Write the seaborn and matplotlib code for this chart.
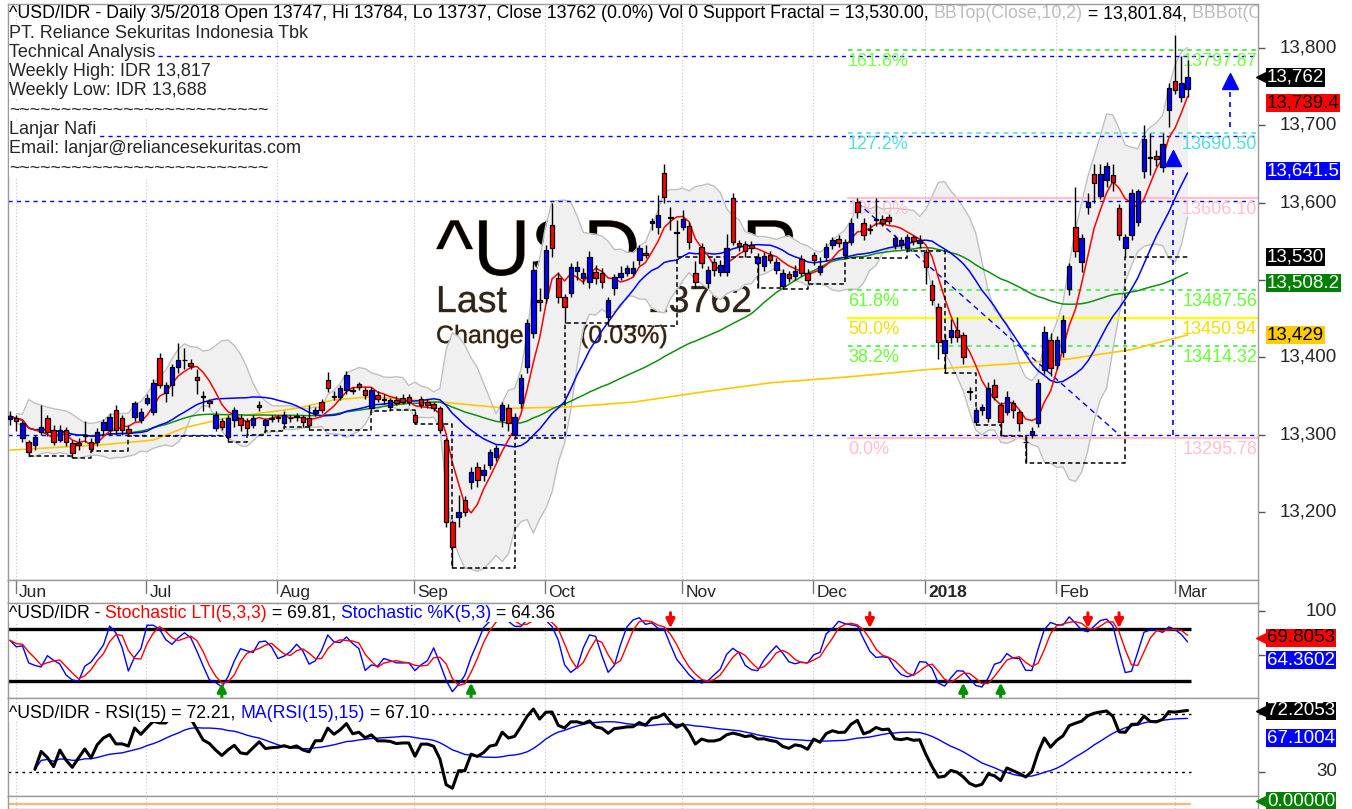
import numpy as np
import pandas as pd
import matplotlib
matplotlib.use("Agg")
import matplotlib.pyplot as plt
import matplotlib.patheffects as pe
import matplotlib.transforms as mtrans
import seaborn as sns

sns.set_theme(style="white")
plt.rcParams["font.family"] = ["Liberation Sans", "DejaVu Sans"]

# ---- ^USD/IDR daily candles, 31 May 2017 .. 5 Mar 2018 ----
open_px = [
    13320, 13322, 13296, 13290, 13287, 13303, 13322, 13306, 13293, 13306, 13289, 13289, 13298, 13290, 13290, 13306, 13306, 13332, 13322, 13307, 13323, 13319,
    13341, 13329, 13399, 13354, 13364, 13387, 13396, 13393, 13375, 13349, 13343, 13309, 13318, 13297, 13319, 13322, 13318, 13312, 13338, 13312, 13320,
    13322, 13315, 13321, 13323, 13323, 13322, 13328, 13342, 13371, 13349, 13349, 13358, 13357, 13365, 13358, 13334, 13351, 13345, 13336, 13345, 13347, 13349,
    13325, 13346, 13342, 13339, 13334, 13293, 13187, 13193, 13215, 13239, 13258, 13248, 13261, 13271, 13319, 13335, 13300, 13341, 13387, 13431, 13474,
    13477, 13571, 13503, 13478, 13483, 13512, 13503, 13497, 13510, 13509, 13452, 13490, 13504, 13509, 13509, 13526, 13535, 13574, 13569, 13638, 13582, 13562,
    13569, 13570, 13509, 13543, 13496, 13523, 13510, 13510, 13606, 13548, 13547, 13545, 13522, 13518, 13532, 13513, 13492, 13508, 13505, 13527, 13509,
    13532, 13510, 13530, 13545, 13553, 13532, 13549, 13601, 13574, 13566, 13578, 13579, 13581, 13545, 13545, 13542, 13555, 13548,
    13536, 13494, 13465, 13406, 13426, 13435, 13429, 13356, 13316, 13332, 13322, 13364, 13338, 13329, 13341, 13329, 13291, 13300, 13315, 13384, 13422,
    13390, 13407, 13488, 13569, 13523, 13594, 13637, 13609, 13629, 13636, 13593, 13541, 13558, 13575, 13641, 13659, 13660, 13646, 13720,
    13757, 13737, 13747,
]
high_px = [
    13330, 13326, 13318, 13293, 13300, 13338, 13326, 13312, 13312, 13310, 13293, 13296, 13318, 13296, 13308, 13320, 13328, 13338, 13326, 13312, 13344, 13334,
    13352, 13372, 13405, 13368, 13392, 13419, 13412, 13398, 13385, 13356, 13346, 13330, 13322, 13326, 13336, 13326, 13322, 13326, 13343, 13322, 13326,
    13326, 13330, 13326, 13328, 13326, 13338, 13336, 13346, 13381, 13356, 13364, 13382, 13362, 13368, 13362, 13362, 13356, 13352, 13348, 13350, 13352, 13353,
    13330, 13350, 13346, 13342, 13337, 13296, 13190, 13222, 13220, 13258, 13265, 13262, 13282, 13286, 13342, 13340, 13328, 13378, 13450, 13525, 13490,
    13545, 13600, 13510, 13482, 13522, 13525, 13516, 13538, 13520, 13516, 13478, 13508, 13518, 13520, 13525, 13545, 13545, 13580, 13610, 13650, 13595, 13578,
    13590, 13575, 13525, 13548, 13518, 13528, 13526, 13560, 13612, 13552, 13550, 13550, 13535, 13536, 13538, 13528, 13514, 13512, 13520, 13532, 13514,
    13536, 13530, 13548, 13556, 13558, 13553, 13580, 13606, 13580, 13572, 13606, 13584, 13585, 13558, 13556, 13560, 13558, 13558,
    13540, 13500, 13470, 13430, 13450, 13452, 13433, 13362, 13336, 13340, 13368, 13372, 13342, 13356, 13345, 13332, 13298, 13310, 13372, 13440, 13432,
    13428, 13455, 13522, 13620, 13560, 13612, 13650, 13650, 13652, 13650, 13598, 13560, 13618, 13618, 13700, 13690, 13668, 13690, 13755,
    13817, 13790, 13784,
]
low_px = [
    13312, 13305, 13290, 13272, 13280, 13300, 13298, 13286, 13290, 13285, 13270, 13280, 13290, 13279, 13285, 13300, 13300, 13300, 13300, 13298, 13318, 13315,
    13338, 13325, 13360, 13342, 13350, 13380, 13385, 13385, 13352, 13330, 13336, 13305, 13306, 13290, 13310, 13305, 13300, 13308, 13330, 13305, 13316,
    13316, 13310, 13316, 13318, 13310, 13306, 13324, 13328, 13355, 13345, 13345, 13352, 13352, 13358, 13346, 13330, 13342, 13340, 13332, 13338, 13339, 13338,
    13314, 13335, 13334, 13330, 13302, 13180, 13128, 13180, 13195, 13230, 13232, 13240, 13255, 13266, 13310, 13305, 13296, 13335, 13380, 13425, 13460,
    13470, 13530, 13470, 13444, 13478, 13500, 13495, 13490, 13495, 13490, 13440, 13480, 13500, 13505, 13505, 13520, 13528, 13565, 13560, 13600, 13565, 13530,
    13565, 13540, 13490, 13515, 13490, 13505, 13505, 13505, 13545, 13538, 13530, 13535, 13490, 13512, 13522, 13508, 13488, 13498, 13500, 13505, 13495,
    13520, 13506, 13525, 13540, 13543, 13528, 13545, 13580, 13552, 13560, 13570, 13570, 13572, 13540, 13540, 13538, 13545, 13542,
    13495, 13468, 13398, 13380, 13418, 13420, 13392, 13345, 13312, 13326, 13316, 13345, 13298, 13325, 13322, 13305, 13263, 13296, 13310, 13378, 13376,
    13385, 13400, 13480, 13530, 13510, 13585, 13600, 13605, 13620, 13615, 13552, 13530, 13552, 13570, 13632, 13636, 13648, 13640, 13698,
    13740, 13730, 13737,
]
close_px = [
    13324, 13318, 13315, 13277, 13297, 13310, 13303, 13290, 13306, 13290, 13276, 13287, 13299, 13282, 13303, 13316, 13323, 13306, 13306, 13302, 13341, 13329,
    13347, 13367, 13364, 13364, 13387, 13397, 13397, 13389, 13371, 13349, 13341, 13325, 13310, 13322, 13332, 13312, 13309, 13322, 13336, 13319, 13321,
    13322, 13325, 13321, 13324, 13316, 13312, 13332, 13332, 13360, 13349, 13360, 13377, 13358, 13362, 13351, 13358, 13346, 13346, 13345, 13341, 13342, 13342,
    13317, 13338, 13338, 13334, 13306, 13187, 13155, 13200, 13200, 13252, 13241, 13254, 13278, 13283, 13338, 13315, 13323, 13373, 13444, 13513, 13471,
    13539, 13541, 13478, 13465, 13517, 13517, 13509, 13530, 13503, 13497, 13474, 13504, 13509, 13515, 13516, 13541, 13532, 13576, 13584, 13607, 13580, 13561,
    13579, 13549, 13497, 13522, 13513, 13513, 13520, 13541, 13549, 13544, 13537, 13541, 13530, 13531, 13526, 13523, 13509, 13503, 13512, 13509, 13500,
    13526, 13518, 13543, 13552, 13548, 13549, 13574, 13588, 13558, 13565, 13579, 13574, 13576, 13554, 13552, 13555, 13551, 13552,
    13517, 13474, 13420, 13422, 13435, 13426, 13400, 13355, 13332, 13336, 13360, 13349, 13316, 13349, 13332, 13315, 13290, 13305, 13367, 13433, 13386,
    13422, 13448, 13518, 13537, 13554, 13601, 13625, 13637, 13647, 13627, 13558, 13556, 13612, 13615, 13682, 13658, 13656, 13676, 13748,
    13746, 13755, 13762,
]

months = ["Jun", "Jul", "Aug", "Sep", "Oct", "Nov", "Dec", "2018", "Feb", "Mar"]
month_start = [1, 22, 43, 65, 86, 108, 129, 147, 168, 187]

# long moving average (yellow)
ma_long_bar = [0, 15, 23, 28, 35, 46, 52, 58, 68, 80, 90, 100, 111, 122, 135, 147, 163, 170, 180, 189]
ma_long_val = [13280, 13287, 13293, 13309, 13322, 13334, 13345, 13349, 13343, 13334, 13336, 13342,
               13355, 13367, 13375, 13384, 13393, 13398, 13410, 13429]

sr_levels = [13790, 13686, 13602, 13300]
fib_names = ["161.8%", "127.2%", "100.0%", "61.8%", "50.0%", "38.2%", "0.0%"]
fib_levels = [13797.87, 13690.50, 13606.10, 13487.56, 13450.94, 13414.32, 13295.78]
trend_bar = [136, 178]
trend_val = [13600, 13300]
proj_bar = [186.7, 195.8]
proj_from = [13300, 13698]
proj_to = [13672, 13772]
sell_bars = [106, 138, 173, 178]
buy_bars = [34, 74, 153, 159]

# ---- indicators ----
df = pd.DataFrame({"o": open_px, "h": high_px, "l": low_px, "c": close_px})
df["bar"] = np.arange(len(df))
c = df["c"]
df["ma5"] = c.rolling(5, min_periods=1).mean()
df["ma20"] = c.rolling(20, min_periods=1).mean()
df["ma50"] = c.rolling(50, min_periods=1).mean()
mid = c.rolling(10, min_periods=2).mean()
sd = c.rolling(10, min_periods=2).std(ddof=0)
df["bbt"] = mid + 2 * sd
df["bbb"] = mid - 2 * sd

lo = df["l"].to_numpy()
sup = np.full(len(lo), np.nan)
cur = np.nan
for i in range(len(lo)):
    if 2 <= i <= len(lo) - 3 and lo[i] < lo[i - 2:i].min() and lo[i] < lo[i + 1:i + 3].min():
        cur = lo[i]
    sup[i] = cur
df["sup"] = sup

hh = df["h"].rolling(5, min_periods=1).max()
ll = df["l"].rolling(5, min_periods=1).min()
df["stk"] = (100 * (c - ll) / (hh - ll)).rolling(3, min_periods=1).mean()
df["std"] = df["stk"].rolling(3, min_periods=1).mean()
dlt = c.diff()
gain = dlt.clip(lower=0).ewm(alpha=1 / 15, adjust=True, min_periods=4).mean()
loss = (-dlt.clip(upper=0)).ewm(alpha=1 / 15, adjust=True, min_periods=4).mean()
df["rsi"] = 100 - 100 / (1 + gain / loss)
df["rsima"] = df["rsi"].rolling(15, min_periods=1).mean()

# ---- layout ----
W, H = 1352, 809
fig = plt.figure(figsize=(W / 100, H / 100), dpi=100)
fig.patch.set_facecolor("white")


def box(x0, y0, x1, y1):
    return [x0 / W, 1 - y1 / H, (x1 - x0) / W, (y1 - y0) / H]


def fx(x):
    return x / W


def fy(y):
    return 1 - y / H


ax = fig.add_axes(box(8, 4, 1258, 580))
axd = fig.add_axes(box(8, 580, 1258, 603))
axs = fig.add_axes(box(8, 603, 1258, 698))
axr = fig.add_axes(box(8, 698, 1258, 796))
axv = fig.add_axes(box(8, 796, 1258, 809))
XL = (-0.32, 200.3)
last = len(df) - 1 + 0.5
LBL = 13.5
WHITE = dict(boxstyle="square,pad=0", fc="white", ec="none")

for a in (ax, axd, axs, axr, axv):
    a.set_xlim(*XL)
    a.set_facecolor("white")
    a.set_xticks([])
    for sp in a.spines.values():
        sp.set_color("#9a9a9a")
        sp.set_linewidth(1)
    if a is not axd:
        for m in month_start:
            a.axvline(m - 0.1, color="#c4c4c4", lw=0.8, ls=(0, (1, 2)), zorder=0.2)

# ---- price panel ----
ax.set_ylim(13112, 13857)
wm = [pe.withStroke(linewidth=0.6, foreground="#d49a60")]
ax.text(fx(436), fy(275), "^USD/IDR", transform=fig.transFigure, fontsize=57,
        color="black", va="baseline", zorder=0.5, path_effects=wm)
ax.text(fx(436), fy(312), "Last", transform=fig.transFigure, fontsize=27, va="baseline", zorder=0.5,
        path_effects=wm)
ax.text(fx(752), fy(312), "13762", transform=fig.transFigure, fontsize=27, va="baseline", ha="right",
        zorder=0.5, path_effects=wm)
ax.text(fx(436), fy(343), "Change", transform=fig.transFigure, fontsize=18, va="baseline", zorder=0.5,
        path_effects=wm)
ax.text(fx(668), fy(343), "4 (0.03%)", transform=fig.transFigure, fontsize=18, va="baseline", ha="right",
        zorder=0.5, path_effects=wm)

ax.fill_between(df["bar"], df["bbb"], df["bbt"], color="#f0f0f0", zorder=1, lw=0)
sns.lineplot(data=df, x="bar", y="bbt", ax=ax, color="#c0c0c0", lw=1, zorder=1.1, legend=False)
sns.lineplot(data=df, x="bar", y="bbb", ax=ax, color="#c0c0c0", lw=1, zorder=1.1, legend=False)

for lv in sr_levels:
    ax.axhline(lv, color="#0000ff", lw=1, ls=(0, (3, 3)), zorder=1.5)

fib_style = [("#33dd33", (0, (3, 3)), "#77ff44"), ("#44dddd", (0, (3, 3)), "#55dddd"),
             ("#ffc0cb", "-", "#ffc0cb"), ("#33ee33", (0, (3, 3)), "#66ff33"),
             ("#ffff00", "-", "#f0e000"), ("#33ee33", (0, (3, 3)), "#66ff33"),
             ("#ffc0cb", "-", "#ffc0cb")]
fib_x0 = 134.5
for name, lv, (lc, ls, tc) in zip(fib_names, fib_levels, fib_style):
    ax.plot([fib_x0, XL[1]], [lv, lv], color=lc, lw=1.6 if ls == "-" else 1.1, ls=ls, zorder=1.6)
    ax.text(fib_x0, lv, name, color=tc, fontsize=13, va="top", ha="left", zorder=1.7,
            transform=ax.transData + mtrans.ScaledTranslation(0, -3 / 100, fig.dpi_scale_trans))
    ax.text(1.0, lv, f"{lv:.2f}", color=tc, fontsize=13, va="top", ha="right", zorder=1.7,
            transform=ax.get_yaxis_transform() + mtrans.ScaledTranslation(-1 / 100, -3 / 100, fig.dpi_scale_trans),
            clip_on=True)

ax.plot(trend_bar, trend_val, color="#0000ff", lw=1, ls=(0, (4, 3)), zorder=2)

sns.lineplot(x=ma_long_bar, y=ma_long_val, ax=ax, color="#ffc800", lw=1.2, zorder=2.2, legend=False)
sns.lineplot(data=df, x="bar", y="ma50", ax=ax, color="#109010", lw=1.1, zorder=2.3, legend=False)
sns.lineplot(data=df, x="bar", y="ma20", ax=ax, color="#0000ff", lw=1.1, zorder=2.4, legend=False)
sns.lineplot(data=df, x="bar", y="ma5", ax=ax, color="#ff0000", lw=1.1, zorder=2.5, legend=False)
sns.lineplot(data=df, x="bar", y="sup", ax=ax, color="black", lw=1.1, ls=(0, (3, 2)),
             drawstyle="steps-post", zorder=2.6, legend=False)

# candles
up = df["c"] >= df["o"]
ax.vlines(df["bar"], df["l"], df["h"], color="black", lw=1, zorder=3)
body_h = (df["c"] - df["o"]).abs().clip(lower=0.8)
ax.bar(df["bar"], body_h, bottom=df[["o", "c"]].min(axis=1), width=0.72,
       color=np.where(up, "#0000ff", "#ff0000"), edgecolor="black", linewidth=0.9, zorder=3.1)

for b, y0, y1 in zip(proj_bar, proj_from, proj_to):
    ax.plot([b, b], [y0, y1 - 25], color="#0000ff", lw=1.2, ls=(0, (3, 3)), zorder=3.5)
    ax.plot([b], [y1 - 14], marker="^", ms=11, color="#0000ff", zorder=3.6)

ax.set_ylabel("")
ax.set_xlabel("")
ax.yaxis.set_ticks_position("right")
price_ticks = [13200, 13300, 13400, 13500, 13600, 13700, 13800]
ax.set_yticks(price_ticks)
ax.tick_params(axis="y", length=5, width=1, color="#555555", labelright=False, labelleft=False, direction="out")
ytr = ax.get_yaxis_transform()
for v in price_ticks:
    if v == 13500:  # covered by the value tags in the reference
        continue
    ax.text(1 + 79 / 1250, v, f"{v:,}", transform=ytr, ha="right", va="center", fontsize=LBL, clip_on=False)


def tag(a, y, s, fc, tc, arrow=False, dy=0):
    tr = a.get_yaxis_transform()
    a.annotate(s, xy=(1, y), xycoords=tr, xytext=(9, -dy), textcoords="offset pixels",
               ha="left", va="center", color=tc, fontsize=LBL, zorder=20, annotation_clip=False,
               bbox=dict(boxstyle="square,pad=0.03", fc=fc, ec="none"))
    if arrow:
        a.plot([1 + 5 / 1250], [y], marker="<", ms=10, color=fc, transform=tr, clip_on=False, zorder=19)


tag(ax, 13762, "13,762", "black", "white", arrow=True)
tag(ax, 13739.4, "13,739.4", "#ff0000", "black", dy=8)
tag(ax, 13641.5, "13,641.5", "#0000ff", "white")
tag(ax, 13530, "13,530", "black", "white")
tag(ax, 13508.2, "13,508.2", "#008000", "white", dy=9)
tag(ax, 13429, "13,429", "#ffcc00", "black")


def chain(a, x, y, pieces, size, bg=None):
    t = a.text(fx(x), fy(y), pieces[0][0], color=pieces[0][1], fontsize=size, transform=fig.transFigure,
               va="center", ha="left", clip_on=True, zorder=6, bbox=bg)
    for s, col in pieces[1:]:
        t = a.annotate(s, xy=(1, 0), xycoords=t, va="bottom", ha="left", color=col, fontsize=size,
                       clip_on=True, annotation_clip=False, zorder=6, bbox=bg)


chain(ax, 9, 14, [("^USD/IDR - Daily 3/5/2018 Open 13747, Hi 13784, Lo 13737, Close 13762 (0.0%) Vol 0 "
                   "Support Fractal = 13,530.00, ", "black"),
                  ("BBTop(Close,10,2)", "#bdbdbd"), (" = 13,801.84, ", "black"),
                  ("BBBot(Close,10,2) = 13,580.1", "#bdbdbd")], 12.8)
info_lines = ["PT. Reliance Sekuritas Indonesia Tbk", "Technical Analysis", "Weekly High: IDR 13,817",
              "Weekly Low: IDR 13,688", "~" * 25, "Lanjar Nafi", "Email: lanjar@reliancesekuritas.com", "~" * 25]
for k, s in enumerate(info_lines):
    ax.text(fx(9), fy(33 + 19.3 * k), s, transform=fig.transFigure, fontsize=13, va="center", zorder=6,
            bbox=WHITE)

# ---- date strip ----
axd.set_ylim(0, 1)
axd.set_yticks([])
dtr = mtrans.blended_transform_factory(axd.transData, axd.transAxes)
for m, name in zip(month_start, months):
    axd.plot([m - 0.1, m - 0.1], [0.45, 1.0], color="#777777", lw=1, transform=dtr)
    axd.text(m + 0.4, 0.45, name, transform=dtr, fontsize=12.5, va="center", ha="left",
             fontweight="bold" if name == "2018" else "normal")

# ---- stochastic panel ----
axs.set_ylim(1.1, 109.1)
axs.hlines([80, 20], XL[0], last, color="black", lw=2.4, zorder=2)
sns.lineplot(data=df, x="bar", y="stk", ax=axs, color="#0000ff", lw=1, zorder=3, legend=False)
sns.lineplot(data=df, x="bar", y="std", ax=axs, color="#ff0000", lw=1, zorder=3.1, legend=False)
for b in sell_bars:
    axs.annotate("", xy=(b, 80.5), xytext=(b, 98), arrowprops=dict(arrowstyle="-|>", color="#ff0000",
                 lw=2.2, mutation_scale=13, shrinkA=0, shrinkB=0), zorder=4)
for b in buy_bars:
    axs.annotate("", xy=(b, 18.5), xytext=(b, 1.1), arrowprops=dict(arrowstyle="-|>", color="#009000",
                 lw=2.2, mutation_scale=13, shrinkA=0, shrinkB=0), zorder=4)
chain(axs, 9, 613, [("^USD/IDR - ", "black"), ("Stochastic LTI(5,3,3)", "#ff0000"), (" = 69.81, ", "black"),
                    ("Stochastic %K(5,3)", "#0000ff"), (" = 64.36", "black")], 12.7, WHITE)
axs.yaxis.set_ticks_position("right")
axs.set_yticks([50, 100])
axs.tick_params(axis="y", length=5, width=1, color="#555555", labelright=False, labelleft=False)
axs.text(1 + 79 / 1250, 100, "100", transform=axs.get_yaxis_transform(), ha="right", va="center", fontsize=LBL)
tag(axs, 69.8053, "69.8053", "#ff0000", "black", arrow=True)
tag(axs, 64.3602, "64.3602", "#0000ff", "white", dy=18)
axs.set_xlabel("")
axs.set_ylabel("")

# ---- RSI panel ----
axr.set_ylim(13.4, 81)
axr.hlines([70, 30], XL[0], last, color="black", lw=1, ls=(0, (2, 3)), zorder=2)
sns.lineplot(data=df, x="bar", y="rsima", ax=axr, color="#0000ff", lw=1, zorder=3, legend=False)
sns.lineplot(data=df, x="bar", y="rsi", ax=axr, color="black", lw=2.2, zorder=3.1, legend=False)
chain(axr, 9, 713, [("^USD/IDR - RSI(15) = 72.21, ", "black"), ("MA(RSI(15),15)", "#0000ff"),
                    (" = 67.10", "black")], 12.7, WHITE)
axr.yaxis.set_ticks_position("right")
axr.set_yticks([30, 70])
axr.tick_params(axis="y", length=5, width=1, color="#555555", labelright=False, labelleft=False)
axr.text(1 + 79 / 1250, 30, "30", transform=axr.get_yaxis_transform(), ha="right", va="center", fontsize=LBL)
tag(axr, 72.2053, "72.2053", "black", "white", arrow=True)
tag(axr, 67.1004, "67.1004", "#0000ff", "white", dy=20)
axr.set_xlabel("")
axr.set_ylabel("")

# ---- bottom strip ----
axv.set_ylim(-1, 1.6)
axv.set_yticks([])
axv.hlines(0, XL[0], last, color="#ffb478", lw=1.6)
tag(axv, 0.6, "0.00000", "#008000", "white", arrow=True)

fig.savefig("out.png", dpi=100, facecolor="white")
